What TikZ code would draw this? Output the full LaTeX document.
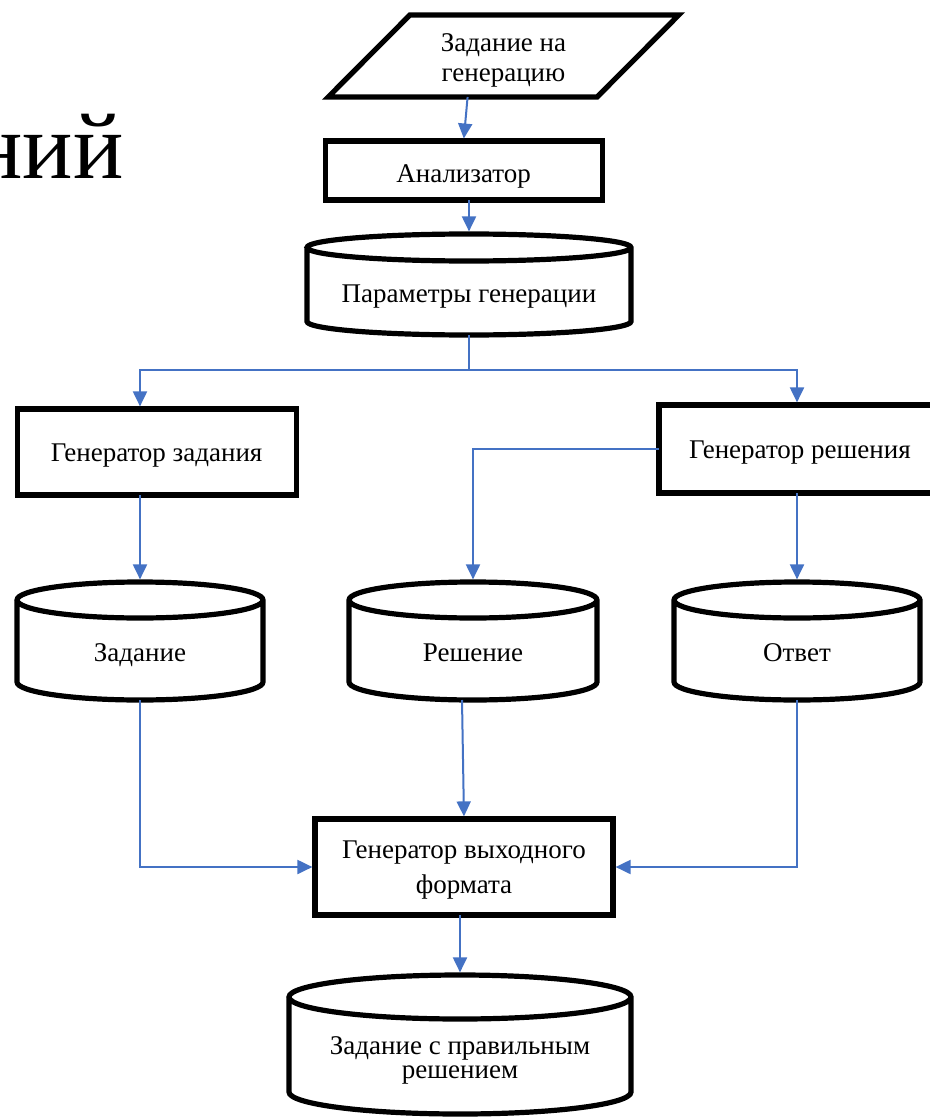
\documentclass[tikz,border=0pt]{standalone}
\usepackage{fontspec}
\setmainfont{Liberation Serif}
\usetikzlibrary{arrows.meta, shapes.geometric}
\definecolor{flowblue}{RGB}{68,114,196}

% cylinder outline round a named store node: name, half width, ellipse radius
\newcommand{\drum}[3]{%
  \draw[line width=2.6pt] ([yshift=-#3]#1.north west) -- ([yshift=#3]#1.south west)
    arc[start angle=180, end angle=360, x radius=#2, y radius=#3]
    -- ([yshift=-#3]#1.north east)
    arc[start angle=0, end angle=180, x radius=#2, y radius=#3]
    arc[start angle=180, end angle=360, x radius=#2, y radius=#3];}

\begin{document}
\begin{tikzpicture}[x=1pt, y=1pt, font=\fontsize{13.5}{15}\selectfont,
  box/.style={draw, line width=2.6pt, inner sep=0pt, outer sep=0pt, align=center, text height=12.5pt, text depth=3pt},
  data/.style={box, trapezium, trapezium left angle=49.5, trapezium right angle=130.5, trapezium stretches=true},
  store/.style 2 args={inner sep=0pt, outer sep=0pt, align=center, text height=#1, text depth=#2},
  flow/.style={draw=flowblue, line width=1pt, -{Triangle[width=7pt, length=7.5pt]}, shorten >=1.3pt}]
  \useasboundingbox (0,0) rectangle (465,-559);

  \node[anchor=base east, inner sep=0pt, font=\fontsize{47}{50}\selectfont] (ttl) at (62,-89.5) {ний};

  \node[data, minimum width=175.5pt, minimum height=41pt, text height=29pt] (req) at (251.75,-28) {Задание на\\генерацию};
  \node[box, minimum width=138.5pt, minimum height=29.5pt, text height=14.5pt] (anl) at (231.8,-85.3) {Анализатор};
  \node[store={34pt}{16.5pt}, minimum width=162pt] (prm) at (234.5,-142.25) {Параметры генерации};
  \node[box, minimum width=139.5pt, minimum height=43pt] (gtask) at (78.3,-226) {Генератор задания};
  \node[box, minimum width=141pt, minimum height=44pt] (gsol) at (400,-224.5) {Генератор решения};
  \node[store={39.5pt}{19.5pt}, minimum width=123pt] (task) at (70,-320.5) {Задание};
  \node[store={39.5pt}{19.5pt}, minimum width=124pt] (sol) at (236.5,-320.5) {Решение};
  \node[store={39.5pt}{19.5pt}, minimum width=123pt] (ans) at (398.5,-320.5) {Ответ};
  \node[box, minimum width=149pt, minimum height=48pt, text height=29pt, font=\fontsize{13.5}{17.5}\selectfont] (fmt) at (232,-433.5) {Генератор выходного\\формата};
  \node[store={51.5pt}{18pt}, minimum width=171pt, font=\fontsize{13.5}{12}\selectfont] (res) at (230,-522.25) {Задание с правильным\\решением};

  \drum{prm}{81pt}{6.75pt}
  \drum{task}{61.5pt}{9pt}
  \drum{sol}{62pt}{9pt}
  \drum{ans}{61.5pt}{9pt}
  \drum{res}{85.5pt}{11pt}

  \draw[flow] ([xshift=2pt]req.south -| anl.north) -- (anl.north);
  \draw[flow] (anl.south -| prm.north) -- (prm.north);
  \draw[flow] (prm.south) -- ++(0,-17.5) -| (gtask.north -| task.north);
  \draw[flow] (prm.south) -- ++(0,-17.5) -| (gsol.north -| ans.north);
  \draw[flow] (gtask.south -| task.north) -- (task.north);
  \draw[flow] (gsol.west) -| (sol.north);
  \draw[flow] (gsol.south -| ans.north) -- (ans.north);
  \draw[flow] (task.south) |- (fmt.west);
  \draw[flow] ([xshift=-1pt]sol.south -| fmt.north) -- (fmt.north);
  \draw[flow] (ans.south) |- (fmt.east);
  \draw[flow] (fmt.south -| res.north) -- (res.north);
\end{tikzpicture}
\end{document}
